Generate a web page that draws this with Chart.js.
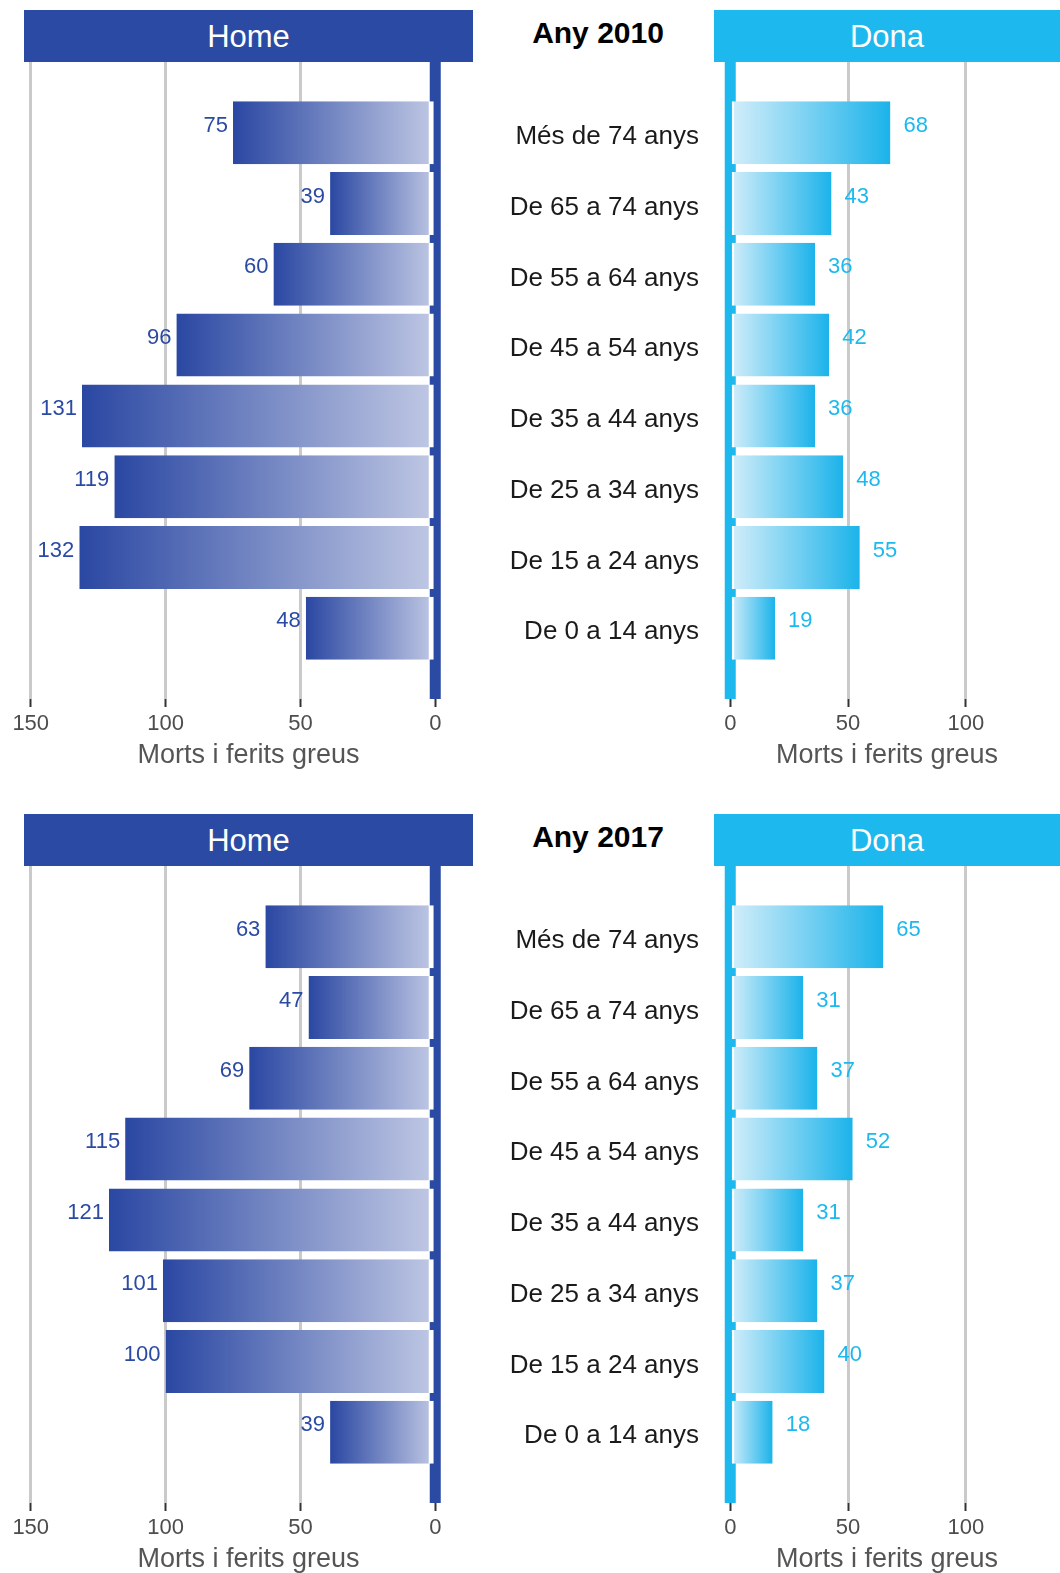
<!DOCTYPE html>
<html>
<head>
<meta charset="utf-8">
<title>Morts i ferits greus per edat i sexe</title>
<script src="https://cdn.jsdelivr.net/npm/chart.js@4.4.1/dist/chart.umd.min.js"></script>
<style>
    body { margin: 0; width: 1060px; height: 1573px; overflow: hidden; background: #fff; font-family: "Liberation Sans", Arial, sans-serif; }
    .panel { position: absolute; left: 0; width: 1060px; height: 800px; }
    .hdr { position: absolute; top: 10px; height: 52px; line-height: 54px; color: #fff; font-size: 31px; text-align: center; }
    .hdr.home { left: 24px; width: 449px; background: #2b4aa3; }
    .hdr.dona { left: 714px; width: 346px; background: #1db9ee; }
    .year { position: absolute; left: 478px; width: 240px; top: 11px; height: 44px; line-height: 44px; text-align: center; font-weight: bold; font-size: 30px; color: #000; }
    canvas { position: absolute; top: 62px; }
</style>
</head>
<body>

<div class="panel" style="top:0px">
    <div class="hdr home">Home</div>
    <div class="year">Any 2010</div>
    <div class="hdr dona">Dona</div>
    <canvas id="home2010" width="480" height="717" style="left:0px"></canvas>
    <canvas id="dona2010" width="580" height="717" style="left:480px"></canvas>
</div>

<div class="panel" style="top:804px">
    <div class="hdr home">Home</div>
    <div class="year">Any 2017</div>
    <div class="hdr dona">Dona</div>
    <canvas id="home2017" width="480" height="717" style="left:0px"></canvas>
    <canvas id="dona2017" width="580" height="717" style="left:480px"></canvas>
</div>

<script>
var ageGroups = ["Més de 74 anys", "De 65 a 74 anys", "De 55 a 64 anys", "De 45 a 54 anys",
    "De 35 a 44 anys", "De 25 a 34 anys", "De 15 a 24 anys", "De 0 a 14 anys"];

var home2010 = [75, 39, 60, 96, 131, 119, 132, 48];
var dona2010 = [68, 43, 36, 42, 36, 48, 55, 19];
var home2017 = [63, 47, 69, 115, 121, 101, 100, 39];
var dona2017 = [65, 31, 37, 52, 31, 37, 40, 18];

var homeTicks = [0, 50, 100, 150];
var donaTicks = [0, 50, 100];
var axisTitle = "Morts i ferits greus";

Chart.defaults.font.family = '"Liberation Sans", Arial, sans-serif';

// thick coloured line at x = 0, drawn under the bars
var zeroLine = {
    id: 'zeroLine',
    beforeDatasetsDraw: function (chart, args, opts) {
        var ctx = chart.ctx;
        var area = chart.chartArea;
        var x0 = chart.scales.x.getPixelForValue(0);
        ctx.save();
        ctx.fillStyle = opts.color;
        ctx.fillRect(x0 - 5.5, area.top, 11, area.bottom - area.top);
        ctx.restore();
    }
};

// value numbers next to the end of each bar
var valueLabels = {
    id: 'valueLabels',
    afterDatasetsDraw: function (chart, args, opts) {
        var ctx = chart.ctx;
        var data = chart.data.datasets[0].data;
        ctx.save();
        ctx.font = '22px "Liberation Sans", Arial, sans-serif';
        ctx.fillStyle = opts.color;
        ctx.textAlign = opts.align;
        ctx.textBaseline = 'middle';
        chart.getDatasetMeta(0).data.forEach(function (bar, i) {
            if (data[i] == null) return;
            ctx.fillText(data[i], bar.x + opts.dx, bar.y - 7);
        });
        ctx.restore();
    }
};

function barGradient(c, light, dark) {
    var chart = c.chart;
    if (!chart.chartArea || c.raw == null) return dark;
    var xs = chart.scales.x;
    var g = chart.ctx.createLinearGradient(xs.getPixelForValue(0), 0, xs.getPixelForValue(c.raw), 0);
    g.addColorStop(0, light);
    g.addColorStop(1, dark);
    return g;
}

function makeChart(id, values, isHome) {
    var main = isHome ? '#2b4aa3' : '#1db9ee';
    var light = isHome ? '#c0c8e4' : '#d4eefa';
    var dark = isHome ? '#2a47a2' : '#1bb3ea';
    var ticksList = isHome ? homeTicks : donaTicks;

    return new Chart(document.getElementById(id), {
        type: 'bar',
        data: {
            labels: [''].concat(ageGroups, ['']),
            datasets: [{
                data: [null].concat(values, [null]),
                backgroundColor: function (c) { return barGradient(c, light, dark); },
                borderColor: '#ffffff',
                borderWidth: isHome ? { right: 5 } : { left: 3 },
                borderSkipped: false,
                barPercentage: 0.89,
                categoryPercentage: 1
            }]
        },
        options: {
            indexAxis: 'y',
            responsive: false,
            animation: false,
            devicePixelRatio: 1,
            layout: { padding: isHome ? { left: 24, right: 7, top: 0, bottom: 0 } : 0 },
            plugins: {
                legend: { display: false },
                tooltip: { enabled: false },
                zeroLine: { color: main },
                valueLabels: { color: main, align: isHome ? 'right' : 'left', dx: isHome ? -5 : 13 }
            },
            scales: {
                x: {
                    type: 'linear',
                    reverse: isHome,
                    min: isHome ? -14 : -6.9,
                    max: isHome ? 152.5 : 140,
                    afterBuildTicks: function (axis) {
                        axis.ticks = ticksList.map(function (v) { return { value: v }; });
                    },
                    afterFit: function (axis) { axis.height = 80; },
                    border: { display: false },
                    grid: {
                        color: function (c) { return c.tick && c.tick.value === 0 ? 'rgba(0,0,0,0)' : '#cacaca'; },
                        lineWidth: 3,
                        tickColor: '#333',
                        tickWidth: 2,
                        tickLength: 8
                    },
                    ticks: { color: '#4d4d4d', font: { size: 22 }, padding: 4, maxRotation: 0, autoSkip: false },
                    title: {
                        display: true,
                        text: axisTitle,
                        color: '#555',
                        font: { size: 27 },
                        padding: { top: 0, bottom: 7 }
                    }
                },
                y: {
                    type: 'category',
                    offset: false,
                    display: !isHome,
                    grid: { display: false, drawTicks: false },
                    border: { display: false },
                    ticks: { color: '#1a1a1a', font: { size: 26 }, padding: 15, labelOffset: 4, autoSkip: false },
                    afterFit: function (axis) {
                        if (isHome) return;
                        axis.width = 234;
                        axis.paddingTop = 0;
                        axis.paddingBottom = 0;
                    }
                }
            }
        },
        plugins: [zeroLine, valueLabels]
    });
}

var chartHome2010 = makeChart('home2010', home2010, true);
var chartDona2010 = makeChart('dona2010', dona2010, false);
var chartHome2017 = makeChart('home2017', home2017, true);
var chartDona2017 = makeChart('dona2017', dona2017, false);
</script>
</body>
</html>
